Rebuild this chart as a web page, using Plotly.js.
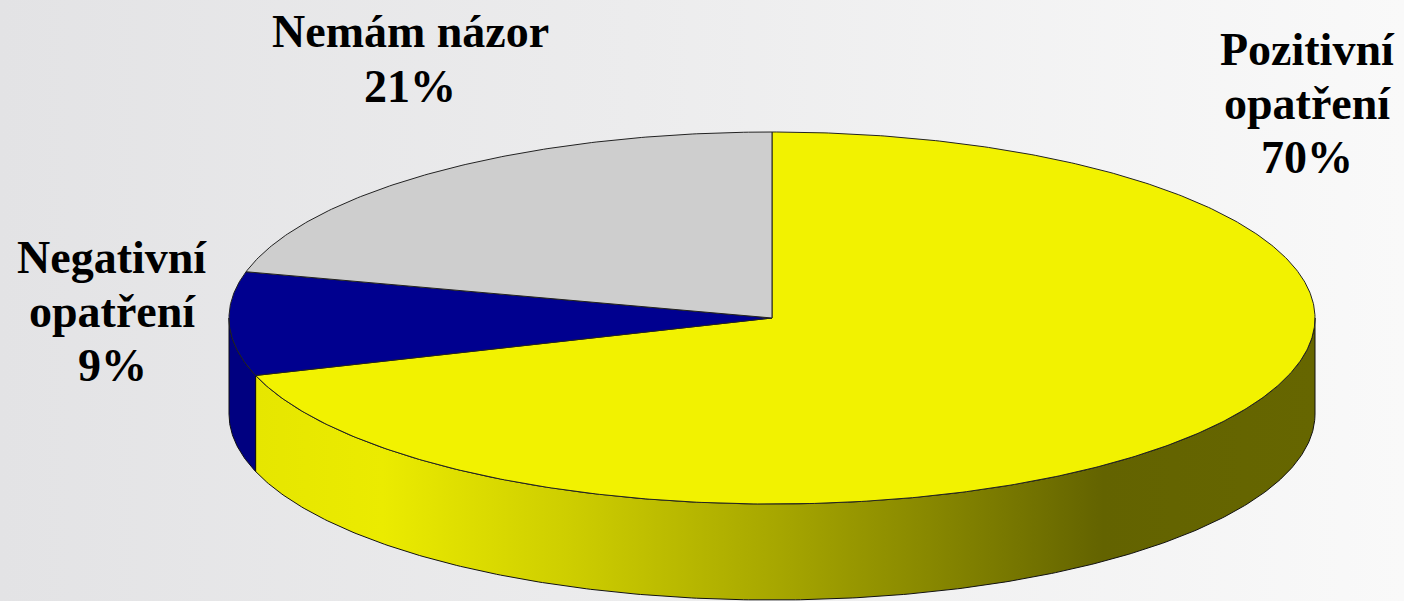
<!DOCTYPE html>
<html>
<head>
<meta charset="utf-8">
<script src="https://cdn.plot.ly/plotly-3.0.1.min.js"></script>
<style>
  html, body { margin: 0; padding: 0; }
  body { background: linear-gradient(to right, #e3e3e5 0%, #ececed 45%, #f9f9f9 100%); }
  #chart { width: 1404px; height: 601px; }
</style>
</head>
<body>
<div id="chart"></div>
<script>
// ---- data ----
const categories = ['Pozitivní opatření', 'Negativní opatření', 'Nemám názor'];
const labelLines = [['Pozitivní', 'opatření'], ['Negativní', 'opatření'], ['Nemám názor']];
const values = [70, 9, 21];
const topColors = ['#f2f200', '#00008f', '#cecece'];
const sideColors = ['#e6e600', '#000080', '#b0b0b0'];

// ---- geometry (styling) ----
const W = 1404, H = 601;
const cx = 772, cy = 318, rx = 543, ry = 186, depth = 96;
const labelPos = [
  {x: 1307, base: [65, 119, 173]},
  {x: 112, base: [273, 327, 381]},
  {x: 410, base: [47, 102]}
];
const fontSize = 46;
const serif = 'Times New Roman, Liberation Serif, DejaVu Serif, serif';

function pt(phiDeg, dy) {
  const p = phiDeg * Math.PI / 180;
  return [cx + rx * Math.cos(p), cy - ry * Math.sin(p) + (dy || 0)];
}
function arc(a0, a1, dy) {
  const n = Math.max(2, Math.ceil(Math.abs(a1 - a0) / 0.5));
  const xs = [], ys = [];
  for (let i = 0; i <= n; i++) {
    const a = a0 + (a1 - a0) * i / n;
    const q = pt(a, dy);
    xs.push(q[0]); ys.push(q[1]);
  }
  return [xs, ys];
}

const total = values.reduce((s, v) => s + v, 0);
const slices = [];
let start = 90;
values.forEach((v, i) => {
  const sweep = v / total * 360;
  slices.push({i: i, a0: start, a1: start - sweep});
  start -= sweep;
});

const traces = [];
// side faces (visible front: angles in [-180, 0])
slices.forEach(s => {
  const hi = Math.min(s.a0, 0), lo = Math.max(s.a1, -180);
  if (hi <= lo) return;
  const top = arc(hi, lo, 0);
  const bot = arc(lo, hi, depth);
  const xs = top[0].concat(bot[0]).concat([top[0][0]]);
  const ys = top[1].concat(bot[1]).concat([top[1][0]]);
  const tr = {
    type: 'scatter', mode: 'lines', x: xs, y: ys, fill: 'toself',
    fillcolor: sideColors[s.i], line: {color: '#111111', width: 1},
    hoverinfo: 'skip', showlegend: false
  };
  if (s.i === 0) {
    tr.fillgradient = {
      type: 'horizontal', start: Math.min(...xs), stop: Math.max(...xs),
      colorscale: [[0, '#e6e600'], [0.12, '#ebeb00'], [0.3, '#cdcd00'], [0.5, '#a5a500'],
                   [0.7, '#7a7a00'], [0.8, '#636300'], [1, '#666600']]
    };
  }
  traces.push(tr);
});
// top faces
slices.forEach(s => {
  const a = arc(s.a0, s.a1, 0);
  const xs = [cx].concat(a[0]).concat([cx]);
  const ys = [cy].concat(a[1]).concat([cy]);
  traces.push({
    type: 'scatter', mode: 'lines', x: xs, y: ys, fill: 'toself',
    fillcolor: topColors[s.i], line: {color: '#222222', width: 1},
    name: categories[s.i], text: categories[s.i] + ': ' + values[s.i] + '%',
    hoverinfo: 'text', showlegend: false
  });
});

// labels
const annotations = [];
slices.forEach(s => {
  const lines = labelLines[s.i].concat([Math.round(values[s.i] / total * 100) + '%']);
  lines.forEach((t, k) => {
    annotations.push({
      x: labelPos[s.i].x, y: labelPos[s.i].base[k] - 0.34 * fontSize,
      xref: 'x', yref: 'y', text: t, showarrow: false,
      xanchor: 'center', yanchor: 'middle',
      font: {family: serif, size: fontSize, color: '#000000', weight: 'bold'}
    });
  });
});

const layout = {
  width: W, height: H,
  font: {family: serif, color: '#000000'},
  margin: {l: 0, r: 0, t: 0, b: 0},
  paper_bgcolor: 'rgba(0,0,0,0)', plot_bgcolor: 'rgba(0,0,0,0)',
  xaxis: {range: [0, W], visible: false, fixedrange: true},
  yaxis: {range: [H, 0], visible: false, fixedrange: true},
  annotations: annotations,
  showlegend: false
};
Plotly.newPlot('chart', traces, layout, {displayModeBar: false, staticPlot: true});
</script>
</body>
</html>
